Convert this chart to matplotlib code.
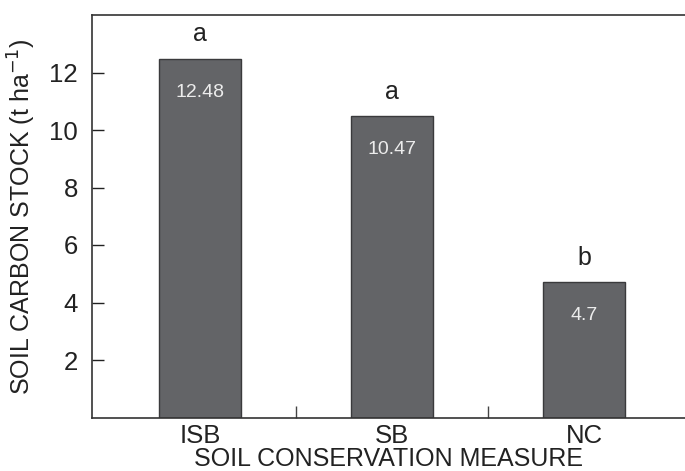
import matplotlib.pyplot as plt
import numpy as np

plt.rcParams['font.family'] = ['Liberation Sans', 'DejaVu Sans']

# dados
measures = ['ISB', 'SB', 'NC']
carbon_stock = [12.48, 10.47, 4.7]
value_labels = ['12.48', '10.47', '4.7']
letters = ['a', 'a', 'b']

fig = plt.figure(figsize=(6.85, 4.71), dpi=100)
ax = fig.add_axes([92 / 685, 1 - 417.5 / 471, 1 - 92 / 685, 402.5 / 471])

x = np.arange(len(measures))
ax.bar(x, carbon_stock, width=0.427, color='#636467', edgecolor='#3a3a3c', linewidth=1.0, zorder=2)

for xi, v, lab, let in zip(x, carbon_stock, value_labels, letters):
    ax.text(xi, v - 1.16, lab, ha='center', va='center', color='#ececec', fontsize=14)
    ax.text(xi, v + 0.85, let, ha='center', va='center', color='#222222', fontsize=18)

ax.set_xlim(-0.5625, 2.526)
ax.set_ylim(0, 14)
ax.set_yticks([2, 4, 6, 8, 10, 12])
ax.set_xticks(x)
ax.set_xticklabels(measures)
ax.set_xticks([0.5, 1.5], minor=True)

ax.tick_params(axis='y', direction='in', length=8.5, width=1, labelsize=18.5, pad=10, colors='#222222')
ax.tick_params(axis='x', which='major', length=0, labelsize=18.5, pad=5, colors='#222222')
ax.tick_params(axis='x', which='minor', direction='in', length=8.5, width=1, color='#444444')

ax.spines['right'].set_visible(False)
for s in ['left', 'top', 'bottom']:
    ax.spines[s].set_linewidth(1.2)
    ax.spines[s].set_color('#333333')

ax.set_xlabel('SOIL CONSERVATION MEASURE', fontsize=18, color='#222222', labelpad=-1)
ax.set_ylabel('SOIL CARBON STOCK (t ha$^{-1}$)', fontsize=18, color='#222222', labelpad=8)

plt.savefig('out.png', dpi=100)
